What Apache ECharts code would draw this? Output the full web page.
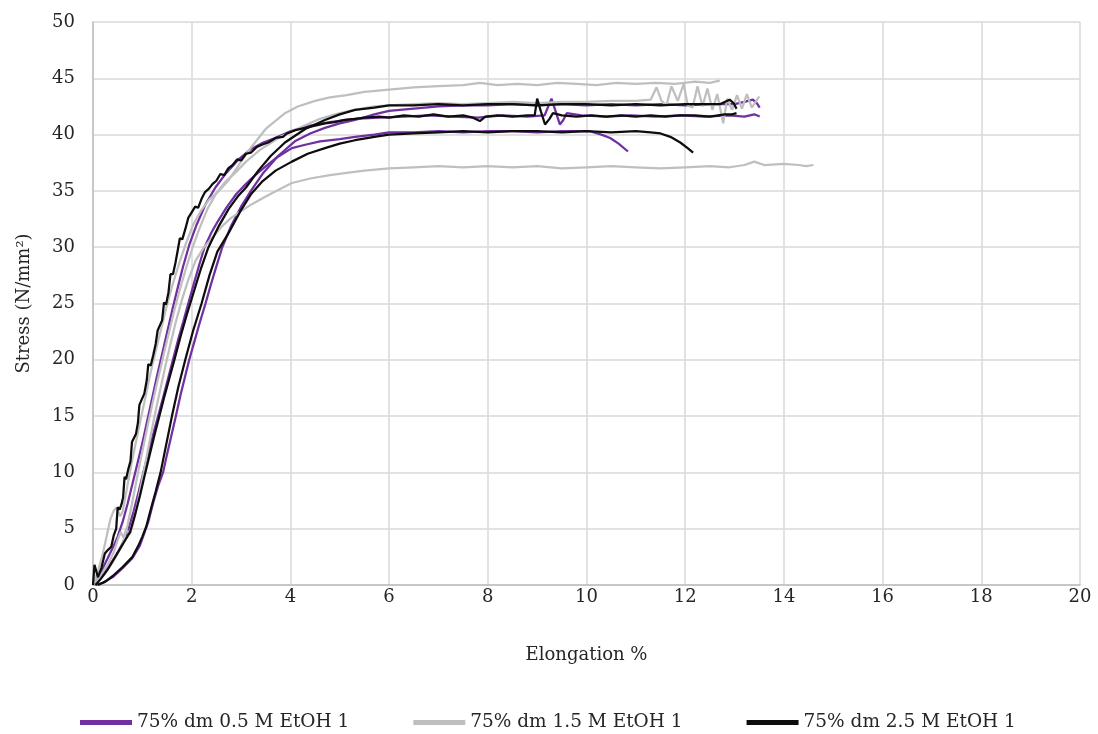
<!DOCTYPE html>
<html>
<head>
<meta charset="utf-8">
<script src="https://cdn.jsdelivr.net/npm/echarts@6/dist/echarts.min.js"></script>
<style>
html,body{margin:0;padding:0;background:#fff;}
#chart{width:1098px;height:734px;}
</style>
</head>
<body>
<div id="chart"></div>
<script>
// Tick settings
const xTicks = {min: 0, max: 20, interval: 2};
const yTicks = {min: 0, max: 50, interval: 5};
const xAxisTitle = 'Elongation %';
const yAxisTitle = 'Stress (N/mm²)';

// Series names
const namesPurple = ['75% dm 0.5 M EtOH 1', '75% dm 0.5 M EtOH 2', '75% dm 0.5 M EtOH 3'];
const namesGray = ['75% dm 1.5 M EtOH 1', '75% dm 1.5 M EtOH 2', '75% dm 1.5 M EtOH 3'];
const namesBlack = ['75% dm 2.5 M EtOH 1', '75% dm 2.5 M EtOH 2', '75% dm 2.5 M EtOH 3'];

// Purple curves [elongation %, stress]
const purple1 = [[0.05,0],[0.2,0.2],[0.4,0.7],[0.6,1.5],[0.8,2.4],[0.95,3.5],[1.04,4.6],[1.12,5.6],[1.22,7.3],[1.32,8.8],[1.42,10],[1.5,11.6],[1.59,13.3],[1.68,15],[1.77,16.8],[1.86,18.4],[1.95,20],[2.06,21.7],[2.17,23.4],[2.28,25],[2.39,26.7],[2.5,28.3],[2.62,30],[2.8,31.9],[3.0,33.6],[3.2,35],[3.45,36.6],[3.75,38.1],[4.09,39.4],[4.4,40.1],[4.7,40.6],[5.0,41.0],[5.31,41.3],[5.7,41.8],[6.0,42.1],[6.5,42.3],[7.0,42.5],[7.5,42.6],[8.0,42.6],[8.5,42.7],[9.0,42.6],[9.5,42.7],[10,42.6],[10.5,42.7],[11,42.6],[11.5,42.7],[12,42.6],[12.5,42.7],[13.0,42.7],[13.2,42.9],[13.37,43.1],[13.45,42.8],[13.51,42.4]];
const purple2 = [[0,0],[0.1,0.6],[0.2,1.5],[0.3,2.4],[0.4,3.3],[0.5,4.3],[0.6,5.6],[0.7,7.2],[0.8,9.0],[0.9,10.8],[1.0,12.6],[1.1,14.6],[1.2,16.6],[1.3,18.6],[1.4,20.5],[1.5,22.4],[1.6,24.3],[1.7,26.1],[1.82,28.2],[1.95,30.2],[2.1,32],[2.28,33.8],[2.48,35.3],[2.7,36.6],[2.95,37.8],[3.2,38.7],[3.45,39.3],[3.69,39.7],[4.0,40.3],[4.4,40.8],[4.8,41.1],[5.3,41.4],[5.8,41.5],[6.3,41.6],[6.8,41.7],[7.3,41.6],[7.8,41.5],[8.3,41.7],[8.8,41.6],[9.15,41.7],[9.29,43.2],[9.38,42.0],[9.46,40.9],[9.53,41.3],[9.6,41.9],[9.9,41.7],[10.4,41.6],[10.9,41.7],[11.4,41.6],[11.9,41.7],[12.4,41.6],[12.9,41.7],[13.2,41.6],[13.4,41.8],[13.51,41.6]];
const purple3 = [[0,0],[0.15,0.6],[0.3,1.5],[0.45,2.5],[0.6,3.7],[0.72,5.0],[0.82,6.5],[0.92,8.2],[1.02,10],[1.12,11.7],[1.22,13.4],[1.32,15],[1.43,16.8],[1.53,18.5],[1.62,20],[1.72,21.7],[1.83,23.4],[1.93,25],[2.04,26.7],[2.15,28.4],[2.26,30],[2.4,31.3],[2.53,32.3],[2.7,33.5],[2.9,34.7],[3.05,35.4],[3.21,36.1],[3.45,37],[3.7,37.9],[4.03,38.8],[4.3,39.1],[4.6,39.4],[5.0,39.6],[5.31,39.8],[5.7,40.0],[6.0,40.2],[6.5,40.2],[7,40.3],[7.5,40.2],[8,40.3],[8.5,40.3],[9,40.2],[9.5,40.3],[10.07,40.3],[10.3,40.0],[10.48,39.7],[10.65,39.2],[10.84,38.5]];

// Gray curves
const gray1 = [[0,0],[0.1,1.2],[0.2,2.8],[0.28,4.4],[0.35,5.8],[0.42,6.6],[0.48,6.9],[0.55,6.1],[0.6,6.5],[0.66,7.9],[0.73,9.6],[0.8,11.2],[0.88,12.9],[0.96,14.6],[1.04,16.2],[1.12,17.9],[1.2,19.5],[1.3,21.3],[1.4,23.1],[1.5,24.9],[1.62,26.8],[1.75,28.6],[1.88,30.3],[2.02,31.9],[2.18,33.2],[2.35,34.2],[2.55,35.0],[2.74,35.9],[3.0,37.6],[3.21,38.9],[3.5,40.5],[3.89,41.9],[4.15,42.5],[4.5,43.0],[4.8,43.3],[5.14,43.5],[5.5,43.8],[6.0,44.0],[6.5,44.2],[7.0,44.3],[7.5,44.4],[7.84,44.6],[8.2,44.4],[8.6,44.5],[9.0,44.4],[9.4,44.6],[9.8,44.5],[10.2,44.4],[10.6,44.6],[11.0,44.5],[11.4,44.6],[11.8,44.5],[12.2,44.7],[12.5,44.6],[12.7,44.8]];
const gray2 = [[0,0],[0.15,0.8],[0.3,1.8],[0.42,2.9],[0.5,4.0],[0.56,4.7],[0.62,4.2],[0.7,5.3],[0.78,7.0],[0.86,8.8],[0.94,10.6],[1.02,12.3],[1.1,14],[1.19,15.8],[1.28,17.6],[1.37,19.3],[1.46,21],[1.56,22.8],[1.66,24.6],[1.77,26.4],[1.89,28.2],[2.02,30],[2.16,31.7],[2.32,33.4],[2.5,34.8],[2.68,35.8],[2.88,36.6],[3.1,37.6],[3.4,38.7],[3.8,39.8],[4.23,40.7],[4.6,41.4],[5.0,41.9],[5.3,42.2],[5.7,42.5],[6.0,42.6],[6.5,42.7],[7.0,42.8],[7.5,42.7],[8.0,42.8],[8.5,42.9],[9.0,42.8],[9.5,42.9],[10.0,42.9],[10.5,43.0],[11.0,43.0],[11.3,43.1],[11.42,44.2],[11.52,43.0],[11.62,42.6],[11.72,44.3],[11.85,43.0],[11.97,44.5],[12.05,42.6],[12.15,42.4],[12.25,44.3],[12.35,42.5],[12.45,44.1],[12.55,42.2],[12.65,43.6],[12.77,41.0],[12.85,43.2],[12.95,42.2],[13.05,43.5],[13.15,42.3],[13.25,43.6],[13.35,42.4],[13.5,43.4]];
const gray3 = [[0,0],[0.2,0.8],[0.35,1.7],[0.5,2.8],[0.6,3.6],[0.68,4.9],[0.75,4.5],[0.82,5.6],[0.9,7.2],[0.98,9.0],[1.06,10.8],[1.14,12.6],[1.22,14.4],[1.3,16.1],[1.39,17.9],[1.48,19.7],[1.58,21.6],[1.68,23.4],[1.8,25.3],[1.93,27.1],[2.08,28.8],[2.25,30],[2.43,30.9],[2.6,31.8],[2.8,32.6],[3.0,33.2],[3.21,33.8],[3.5,34.5],[3.8,35.2],[4.03,35.7],[4.4,36.1],[4.8,36.4],[5.14,36.6],[5.5,36.8],[6.0,37.0],[6.5,37.1],[7.0,37.2],[7.5,37.1],[8.0,37.2],[8.5,37.1],[9.0,37.2],[9.5,37.0],[10.0,37.1],[10.5,37.2],[11.0,37.1],[11.5,37.0],[12.0,37.1],[12.5,37.2],[12.9,37.1],[13.2,37.3],[13.4,37.6],[13.6,37.3],[14.0,37.4],[14.3,37.3],[14.45,37.2],[14.6,37.3]];

// Black curves
const black1 = [[0.05,0],[0.15,0.5],[0.3,1.4],[0.45,2.5],[0.6,3.6],[0.75,4.7],[0.85,6.2],[0.95,7.9],[1.05,9.8],[1.15,11.6],[1.25,13.4],[1.35,15.1],[1.45,16.8],[1.55,18.4],[1.65,20],[1.77,22],[1.9,24],[2.04,26],[2.18,28],[2.34,30],[2.54,31.8],[2.75,33.4],[2.95,34.6],[3.1,35.3],[3.35,36.8],[3.6,38.1],[3.89,39.3],[4.3,40.5],[4.7,41.3],[5.0,41.8],[5.31,42.2],[5.7,42.4],[6.0,42.6],[6.5,42.6],[7,42.7],[7.5,42.6],[8,42.7],[8.5,42.7],[9,42.6],[9.5,42.7],[10,42.7],[10.5,42.6],[11,42.7],[11.5,42.6],[12,42.7],[12.5,42.7],[12.7,42.7],[12.8,42.9],[12.9,43.1],[12.98,42.8],[13.04,42.3]];
const black2 = [[0,0],[0.03,1.8],[0.1,0.7],[0.17,1.5],[0.24,2.8],[0.3,3.1],[0.37,3.4],[0.42,4.4],[0.47,5.0],[0.5,6.9],[0.54,6.7],[0.58,7.2],[0.61,7.8],[0.64,9.6],[0.67,9.4],[0.71,10.2],[0.76,11.0],[0.79,12.7],[0.83,12.6],[0.87,13.4],[0.91,14.4],[0.94,16],[0.98,15.9],[1.04,17.0],[1.09,18.2],[1.12,19.6],[1.17,19.5],[1.22,20.4],[1.27,21.4],[1.31,22.6],[1.35,22.5],[1.4,23.5],[1.44,25.1],[1.48,24.9],[1.53,26],[1.57,27.6],[1.62,27.6],[1.67,28.6],[1.72,29.8],[1.76,30.8],[1.81,30.7],[1.87,31.6],[1.93,32.6],[2.0,33.1],[2.07,33.6],[2.13,33.5],[2.2,34.3],[2.27,34.9],[2.35,35.2],[2.42,35.6],[2.5,35.9],[2.58,36.5],[2.66,36.4],[2.74,37],[2.83,37.3],[2.92,37.8],[3.0,37.7],[3.1,38.3],[3.2,38.4],[3.32,38.9],[3.42,39.1],[3.55,39.3],[3.7,39.7],[3.85,39.8],[3.93,40.1],[4.1,40.4],[4.3,40.6],[4.5,40.8],[4.7,41.0],[4.9,41.1],[5.1,41.3],[5.31,41.4],[5.5,41.5],[5.8,41.6],[6.0,41.5],[6.3,41.7],[6.6,41.6],[6.9,41.8],[7.2,41.6],[7.5,41.7],[7.7,41.5],[7.84,41.2],[7.95,41.6],[8.2,41.7],[8.5,41.6],[8.8,41.7],[8.95,41.7],[9.0,43.2],[9.08,42.0],[9.16,40.9],[9.25,41.4],[9.32,41.9],[9.5,41.7],[9.8,41.6],[10.1,41.7],[10.4,41.6],[10.7,41.7],[11.0,41.6],[11.3,41.7],[11.6,41.6],[11.9,41.7],[12.2,41.7],[12.5,41.6],[12.8,41.8],[12.95,41.8],[13.04,41.9]];
const black3 = [[0.1,0],[0.25,0.3],[0.4,0.8],[0.6,1.6],[0.8,2.5],[0.92,3.5],[1.0,4.3],[1.08,5.2],[1.17,6.7],[1.27,8.3],[1.37,10],[1.48,12.4],[1.6,15],[1.73,17.6],[1.87,20],[2.03,22.6],[2.2,25],[2.36,27.5],[2.52,29.6],[2.74,31.2],[3.0,33.3],[3.2,34.7],[3.42,35.8],[3.7,36.8],[4.03,37.6],[4.35,38.3],[4.7,38.8],[5.0,39.2],[5.31,39.5],[5.7,39.8],[6,40.0],[6.5,40.1],[7,40.2],[7.5,40.3],[8,40.2],[8.5,40.3],[9,40.3],[9.5,40.2],[10,40.3],[10.5,40.2],[11,40.3],[11.3,40.2],[11.5,40.1],[11.7,39.8],[11.9,39.3],[12.05,38.8],[12.16,38.4]];

const colorPurple = '#7030A0';
const colorGray = '#BFBFBF';
const colorBlack = '#0D0D0D';
const fontFam = '"DejaVu Serif", serif';
const textColor = '#262626';

function mk(name, data, color) {
  return {
    name: name, type: 'line', data: data, symbol: 'none', smooth: false,
    lineStyle: {color: color, width: 2.25}, itemStyle: {color: color},
    animation: false, z: 2
  };
}

const series = [
  mk(namesPurple[0], purple1, colorPurple),
  mk(namesPurple[1], purple2, colorPurple),
  mk(namesPurple[2], purple3, colorPurple),
  mk(namesGray[0], gray1, colorGray),
  mk(namesGray[1], gray2, colorGray),
  mk(namesGray[2], gray3, colorGray),
  mk(namesBlack[0], black1, colorBlack),
  mk(namesBlack[1], black2, colorBlack),
  mk(namesBlack[2], black3, colorBlack)
];

const chart = echarts.init(document.getElementById('chart'), null, {renderer: 'canvas'});
chart.setOption({
  animation: false,
  backgroundColor: '#ffffff',
  grid: {left: 93, right: 18, top: 22, bottom: 149, containLabel: false},
  xAxis: {
    type: 'value', min: xTicks.min, max: xTicks.max, interval: xTicks.interval,
    name: xAxisTitle, nameLocation: 'middle', nameGap: 61,
    nameTextStyle: {fontFamily: fontFam, fontSize: 18, color: textColor},
    axisLine: {show: true, lineStyle: {color: '#BFBFBF', width: 1.5}},
    axisTick: {show: false},
    axisLabel: {fontFamily: fontFam, fontSize: 18, color: textColor, margin: 3},
    splitLine: {show: true, lineStyle: {color: '#D9D9D9', width: 1.5}}
  },
  yAxis: {
    type: 'value', min: yTicks.min, max: yTicks.max, interval: yTicks.interval,
    name: yAxisTitle, nameLocation: 'middle', nameGap: 60, nameRotate: 90,
    nameTextStyle: {fontFamily: fontFam, fontSize: 18, color: textColor},
    axisLine: {show: true, lineStyle: {color: '#BFBFBF', width: 1.5}},
    axisTick: {show: false},
    axisLabel: {fontFamily: fontFam, fontSize: 18, color: textColor, margin: 18},
    splitLine: {show: true, lineStyle: {color: '#D9D9D9', width: 1.5}}
  },
  legend: {
    data: [namesPurple[0], namesGray[0], namesBlack[0]],
    top: 708, left: 75,
    itemWidth: 52, itemHeight: 12, itemGap: 64,
    textStyle: {fontFamily: fontFam, fontSize: 18.5, color: textColor},
    icon: 'path://M0,0 L10,0 L10,1 L0,1 Z'
  },
  series: series
});
</script>
</body>
</html>
